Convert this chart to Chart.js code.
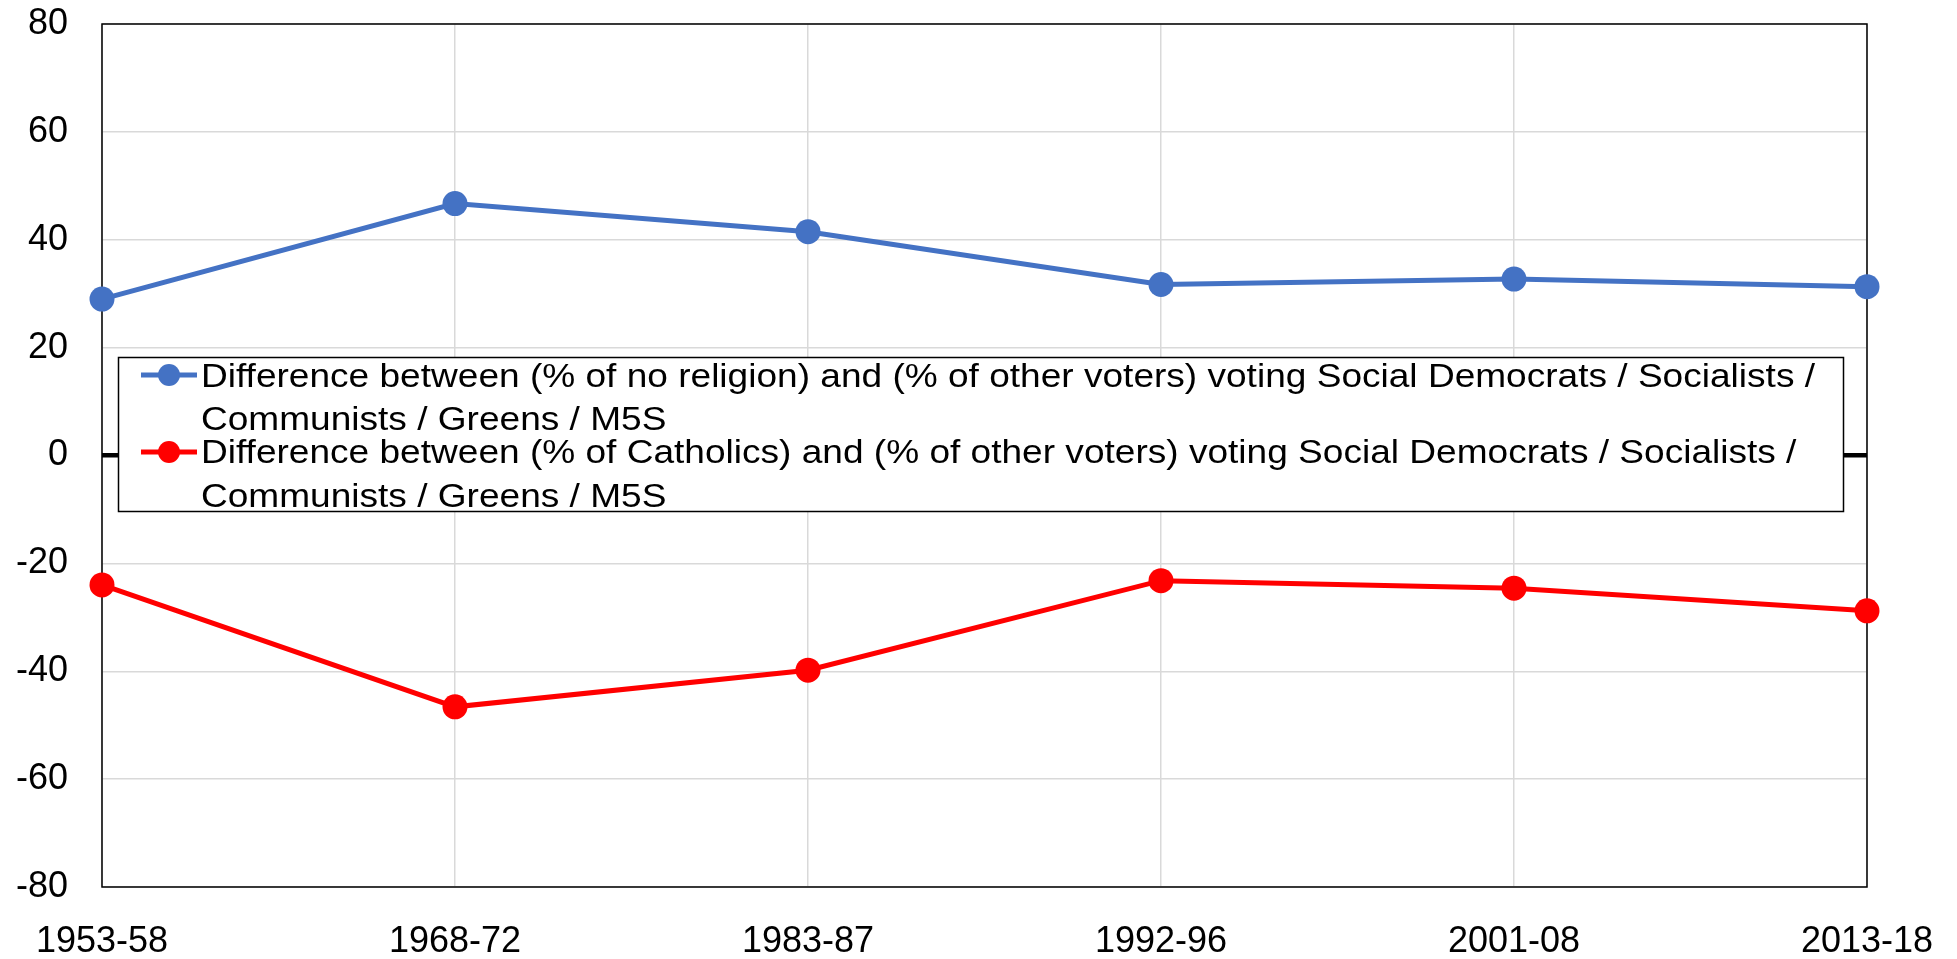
<!DOCTYPE html>
<html>
<head>
<meta charset="utf-8">
<script src="https://cdn.jsdelivr.net/npm/chart.js@4/dist/chart.umd.min.js"></script>
<style>
  html, body { margin: 0; padding: 0; background: #fff; }
  #wrap { width: 1957px; height: 959px; position: relative; }
</style>
</head>
<body>
<div id="wrap"><canvas id="chart" width="1957" height="959"></canvas></div>
<script>
'use strict';

/* DATA */
const periods = ['1953-58', '1968-72', '1983-87', '1992-96', '2001-08', '2013-18'];
const noReligion = [29.0, 46.7, 41.5, 31.7, 32.7, 31.3];
const catholics = [-24.0, -46.6, -39.8, -23.2, -24.6, -28.8];
const seriesNames = [
  ['Difference between (% of no religion) and (% of other voters) voting Social Democrats / Socialists /', 'Communists / Greens / M5S'],
  ['Difference between (% of Catholics) and (% of other voters) voting Social Democrats / Socialists /', 'Communists / Greens / M5S']
];
const yTicks = [-80, -60, -40, -20, 0, 20, 40, 60, 80];

const FONT = '"Liberation Sans", Arial, sans-serif';

/* plot frame, drawn under the lines so the end markers sit on top */
const framePlugin = {
  id: 'frame',
  beforeDatasetsDraw(chart) {
    const a = chart.chartArea, ctx = chart.ctx;
    ctx.save();
    ctx.strokeStyle = '#000';
    ctx.lineWidth = 1.5;
    ctx.strokeRect(a.left, a.top, a.right - a.left, a.bottom - a.top);
    ctx.restore();
  }
};

/* boxed legend sitting over the plot, like the Excel original */
const boxLegend = {
  id: 'boxLegend',
  afterDatasetsDraw(chart) {
    const ctx = chart.ctx;
    const box = { x: 118.5, y: 357.5, w: 1725, h: 154 };
    ctx.save();
    ctx.fillStyle = '#fff';
    ctx.fillRect(box.x, box.y, box.w, box.h);
    ctx.strokeStyle = '#000';
    ctx.lineWidth = 1.5;
    ctx.strokeRect(box.x, box.y, box.w, box.h);

    ctx.font = '33px ' + FONT;
    const sx = 1614 / ctx.measureText(seriesNames[0][0]).width;
    const rows = [
      { mark: 375, base: [387, 430] },
      { mark: 452, base: [463, 507] }
    ];
    chart.data.datasets.forEach((ds, i) => {
      const r = rows[i];
      ctx.strokeStyle = ds.borderColor;
      ctx.lineWidth = 5;
      ctx.beginPath();
      ctx.moveTo(141, r.mark);
      ctx.lineTo(197, r.mark);
      ctx.stroke();
      ctx.fillStyle = ds.borderColor;
      ctx.beginPath();
      ctx.arc(169, r.mark, 11, 0, Math.PI * 2);
      ctx.fill();

      ctx.fillStyle = '#000';
      ctx.textBaseline = 'alphabetic';
      ctx.textAlign = 'left';
      seriesNames[i].forEach((line, j) => {
        ctx.save();
        ctx.translate(201, r.base[j]);
        ctx.scale(sx, 1);
        ctx.fillText(line, 0, 0);
        ctx.restore();
      });
    });
    ctx.restore();
  }
};

new Chart(document.getElementById('chart'), {
  type: 'line',
  data: {
    labels: periods,
    datasets: [
      {
        label: seriesNames[0].join(' '),
        data: noReligion,
        borderColor: '#4472C4',
        backgroundColor: '#4472C4',
        borderWidth: 5,
        pointRadius: 12.5,
        pointBorderWidth: 0,
        pointHoverRadius: 12.5,
        tension: 0,
        clip: false
      },
      {
        label: seriesNames[1].join(' '),
        data: catholics,
        borderColor: '#FF0000',
        backgroundColor: '#FF0000',
        borderWidth: 5,
        pointRadius: 12.5,
        pointBorderWidth: 0,
        pointHoverRadius: 12.5,
        tension: 0,
        clip: false
      }
    ]
  },
  options: {
    responsive: false,
    animation: false,
    devicePixelRatio: 1,
    layout: { padding: { left: 0, top: 24, right: 90, bottom: 0 } },
    plugins: {
      legend: { display: false },
      title: { display: false },
      tooltip: { enabled: false }
    },
    scales: {
      x: {
        type: 'category',
        offset: false,
        afterFit: s => { s.height = 72; s.paddingLeft = 0; s.paddingRight = 0; },
        grid: { color: '#d9d9d9', lineWidth: 1.5, drawTicks: false },
        border: { display: false },
        ticks: { color: '#000', padding: 33, maxRotation: 0, autoSkip: false, font: { family: FONT, size: 36 } }
      },
      y: {
        min: -80,
        max: 80,
        afterFit: s => { s.width = 102; s.paddingTop = 0; s.paddingBottom = 0; },
        afterBuildTicks: s => { s.ticks = yTicks.map(v => ({ value: v })); },
        grid: {
          drawTicks: false,
          color: c => (c.tick && c.tick.value === 0 ? '#000' : '#d9d9d9'),
          lineWidth: c => (c.tick && c.tick.value === 0 ? 4.5 : 1.5)
        },
        border: { display: false },
        ticks: { color: '#000', padding: 34, font: { family: FONT, size: 36 } }
      }
    }
  },
  plugins: [framePlugin, boxLegend]
});
</script>
</body>
</html>
